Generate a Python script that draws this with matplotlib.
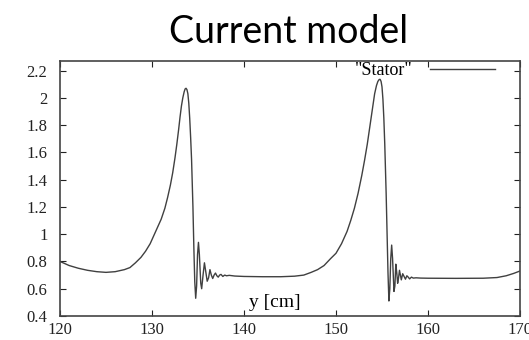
import matplotlib
matplotlib.use("Agg")
import matplotlib.pyplot as plt

# curve (y position in cm, current)
pos_cm = [120.0, 121.0, 122.0, 123.0, 124.0, 125.0, 126.0, 127.0, 127.6, 128.2,
          128.8, 129.3, 129.8, 130.2, 130.6, 131.0, 131.4, 131.7, 132.0, 132.25,
          132.5, 132.7, 132.9, 133.05, 133.2, 133.35, 133.5, 133.6, 133.7, 133.8,
          133.9, 134.0, 134.1, 134.2, 134.3, 134.45, 134.55, 134.65, 134.75, 134.85,
          134.95, 135.05, 135.15, 135.3, 135.4, 135.55, 135.7, 135.85, 136.0, 136.15,
          136.3, 136.45, 136.6, 136.75, 136.9, 137.05, 137.2, 137.35, 137.5, 137.7,
          137.9, 138.1, 138.4, 139.0, 140.0, 142.0, 144.0, 145.5, 146.5, 147.3,
          148.0, 148.7, 149.4, 150.0, 150.6, 151.2, 151.6, 152.0, 152.4, 152.8,
          153.1, 153.4, 153.7, 153.95, 154.2, 154.4, 154.55, 154.7, 154.8, 154.9,
          155.0, 155.1, 155.2, 155.3, 155.45, 155.55, 155.65, 155.75, 155.85, 155.95,
          156.05, 156.15, 156.3, 156.4, 156.5, 156.6, 156.7, 156.8, 156.9, 157.0,
          157.1, 157.25, 157.4, 157.55, 157.7, 157.85, 158.0, 158.2, 158.4, 158.7,
          159.2, 160.0, 163.0, 166.0, 167.5, 168.5, 169.3, 170.0]
stator = [0.80, 0.77, 0.75, 0.735, 0.725, 0.72, 0.725, 0.74, 0.755, 0.79,
          0.83, 0.875, 0.93, 0.99, 1.05, 1.11, 1.19, 1.27, 1.36, 1.45,
          1.56, 1.66, 1.77, 1.86, 1.94, 2.00, 2.045, 2.065, 2.07, 2.06,
          2.03, 1.96, 1.85, 1.71, 1.55, 1.20, 0.90, 0.65, 0.53, 0.62,
          0.85, 0.94, 0.85, 0.64, 0.60, 0.70, 0.79, 0.72, 0.655, 0.68,
          0.74, 0.70, 0.675, 0.70, 0.715, 0.695, 0.685, 0.70, 0.705, 0.69,
          0.70, 0.695, 0.698, 0.693, 0.69, 0.688, 0.688, 0.692, 0.70, 0.72,
          0.74, 0.77, 0.82, 0.86, 0.93, 1.02, 1.10, 1.19, 1.30, 1.43,
          1.54, 1.66, 1.80, 1.92, 2.03, 2.09, 2.12, 2.135, 2.135, 2.12,
          2.08, 1.99, 1.85, 1.66, 1.30, 1.00, 0.72, 0.51, 0.60, 0.82,
          0.92, 0.82, 0.58, 0.62, 0.78, 0.72, 0.64, 0.68, 0.735, 0.70,
          0.665, 0.71, 0.69, 0.67, 0.695, 0.685, 0.672, 0.685, 0.678, 0.68,
          0.678, 0.677, 0.676, 0.677, 0.682, 0.695, 0.712, 0.73]

x_ticks = [120, 130, 140, 150, 160, 170]
y_ticks = [0.4, 0.6, 0.8, 1.0, 1.2, 1.4, 1.6, 1.8, 2.0, 2.2]
y_labels = ["0.4", "0.6", "0.8", "1", "1.2", "1.4", "1.6", "1.8", "2", "2.2"]

fig = plt.figure(figsize=(5.29, 3.40), dpi=100)
ax = fig.add_axes([0.1134, 0.0706, 0.8696, 0.75])

ax.plot(pos_cm, stator, color="#404040", lw=1.0, label='"Stator"')
ax.set_xlim(120, 170)
ax.set_ylim(0.4, 2.27)

serif = {"family": "Liberation Serif", "size": 12}
ax.set_xticks(x_ticks)
ax.set_xticklabels([str(t) for t in x_ticks], fontdict=serif)
ax.set_yticks(y_ticks)
ax.set_yticklabels(y_labels, fontdict=serif)
ax.tick_params(direction="in", length=4, width=0.8, top=True, right=True,
               colors="#222222")
ax.tick_params(axis="y", pad=9)
ax.tick_params(axis="x", pad=4)

for s in ax.spines.values():
    s.set_linewidth(1.2)
    s.set_color("#444444")

ax.set_xlabel("y [cm]", family="Liberation Serif", size=14)
ax.xaxis.set_label_coords(0.467, 0.051)
ax.xaxis.label.set_va("center")

ax.legend(loc="upper right", bbox_to_anchor=(0.962, 1.025), frameon=False,
          markerfirst=False, handlelength=3.6, handletextpad=1.0, borderaxespad=0,
          prop={"family": "Liberation Serif", "size": 13})

fig.text(0.545, 0.96, "Current model", family="Lato", size=27,
         ha="center", va="top")

fig.savefig("out.png", dpi=100)
